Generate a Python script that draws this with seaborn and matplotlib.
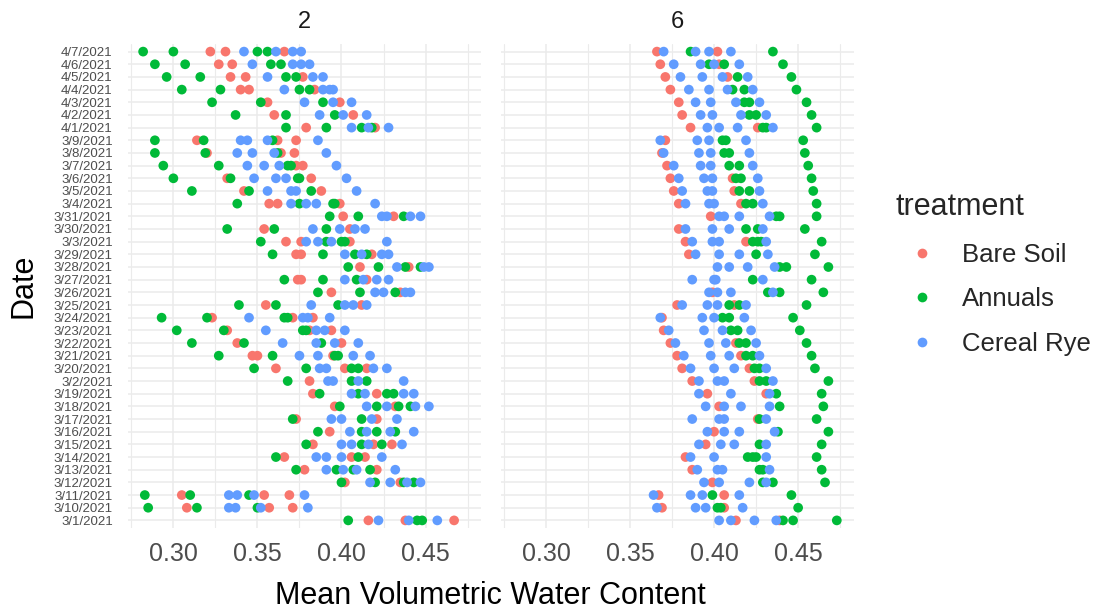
import matplotlib
matplotlib.use("Agg")
import pandas as pd
import matplotlib.pyplot as plt
import seaborn as sns
from matplotlib.lines import Line2D

# y axis order, top to bottom (dates were sorted as text in the source)
dates = ["4/7", "4/6", "4/5", "4/4", "4/3", "4/2", "4/1",
         "3/9", "3/8", "3/7", "3/6", "3/5", "3/4", "3/31", "3/30", "3/3",
         "3/29", "3/28", "3/27", "3/26", "3/25", "3/24", "3/23", "3/22",
         "3/21", "3/20", "3/2", "3/19", "3/18", "3/17", "3/16", "3/15",
         "3/14", "3/13", "3/12", "3/11", "3/10", "3/1"]
date_labels = [d + "/2021" for d in dates]

treatments = ["Bare Soil", "Annuals", "Cereal Rye"]
colors = ["#F8766D", "#00BA38", "#619CFF"]
facets = ["2", "6"]

# ---- depth 2 ----
bare_2 = {
    "4/7": [0.322, 0.331, 0.366], "4/6": [0.327, 0.335], "4/5": [0.334, 0.343, 0.377],
    "4/4": [0.340, 0.345, 0.384], "4/3": [0.356, 0.399], "4/2": [0.360, 0.407],
    "4/1": [0.379, 0.420], "3/9": [0.314, 0.362, 0.373], "3/8": [0.320, 0.364, 0.372],
    "3/7": [0.373, 0.377], "3/6": [0.332, 0.382], "3/5": [0.342, 0.388],
    "3/4": [0.357, 0.362, 0.399], "3/31": [0.401, 0.431], "3/30": [0.354, 0.405],
    "3/3": [0.367, 0.376, 0.405], "3/29": [0.373, 0.376, 0.418], "3/28": [0.411, 0.440],
    "3/27": [0.374, 0.376, 0.415], "3/26": [0.394, 0.435], "3/25": [0.355, 0.412],
    "3/24": [0.323, 0.371, 0.383], "3/23": [0.332, 0.381, 0.394], "3/22": [0.338, 0.400],
    "3/21": [0.347, 0.350, 0.395], "3/20": [0.361, 0.402, 0.415], "3/2": [0.381],
    "3/19": [0.383, 0.421], "3/18": [0.396, 0.432], "3/17": [0.373, 0.421],
    "3/16": [0.393], "3/15": [0.383, 0.419, 0.430], "3/14": [0.366, 0.406, 0.414],
    "3/13": [0.378, 0.421], "3/12": [0.402, 0.435], "3/11": [0.305, 0.354, 0.369],
    "3/10": [0.308, 0.357, 0.371], "3/1": [0.416, 0.438, 0.467],
}
annual_2 = {
    "4/7": [0.282, 0.300, 0.350, 0.356], "4/6": [0.289, 0.307, 0.358, 0.364],
    "4/5": [0.296, 0.316, 0.367, 0.373], "4/4": [0.305, 0.328, 0.375, 0.381],
    "4/3": [0.323, 0.352, 0.389], "4/2": [0.337, 0.367, 0.396],
    "4/1": [0.367, 0.391, 0.412, 0.418], "3/9": [0.289, 0.318, 0.359],
    "3/8": [0.289, 0.319, 0.362], "3/7": [0.294, 0.327, 0.368, 0.370],
    "3/6": [0.300, 0.334, 0.374, 0.375], "3/5": [0.311, 0.345, 0.382],
    "3/4": [0.338, 0.375, 0.395, 0.396], "3/31": [0.393, 0.410, 0.437],
    "3/30": [0.332, 0.360, 0.391], "3/3": [0.352, 0.391, 0.400, 0.402],
    "3/29": [0.359, 0.389, 0.408, 0.415], "3/28": [0.404, 0.422, 0.438, 0.447],
    "3/27": [0.366, 0.389, 0.409], "3/26": [0.386, 0.411, 0.432],
    "3/25": [0.339, 0.361, 0.398], "3/24": [0.293, 0.320, 0.366, 0.368],
    "3/23": [0.302, 0.330, 0.377, 0.379], "3/22": [0.311, 0.342, 0.388],
    "3/21": [0.327, 0.359, 0.396, 0.398], "3/20": [0.348, 0.379, 0.406, 0.410],
    "3/2": [0.368, 0.406, 0.415], "3/19": [0.387, 0.410, 0.427, 0.431],
    "3/18": [0.399, 0.421, 0.434, 0.441], "3/17": [0.371, 0.412],
    "3/16": [0.386, 0.412, 0.421, 0.432], "3/15": [0.379, 0.412, 0.424],
    "3/14": [0.361, 0.410], "3/13": [0.373, 0.397, 0.407, 0.417],
    "3/12": [0.400, 0.420, 0.437, 0.443], "3/11": [0.283, 0.310, 0.345],
    "3/10": [0.285, 0.314, 0.350], "3/1": [0.404, 0.445, 0.448],
}
rye_2 = {
    "4/7": [0.342, 0.361, 0.371, 0.376], "4/6": [0.347, 0.371, 0.376, 0.381],
    "4/5": [0.356, 0.383, 0.389], "4/4": [0.366, 0.389, 0.393, 0.395],
    "4/3": [0.378, 0.395, 0.406], "4/2": [0.387, 0.401, 0.415],
    "4/1": [0.406, 0.416, 0.428], "3/9": [0.340, 0.344, 0.356, 0.386],
    "3/8": [0.338, 0.347, 0.360, 0.391], "3/7": [0.344, 0.354, 0.363, 0.397],
    "3/6": [0.348, 0.361, 0.367, 0.403], "3/5": [0.356, 0.370, 0.373, 0.409],
    "3/4": [0.370, 0.379, 0.385, 0.420], "3/31": [0.424, 0.427, 0.441, 0.447],
    "3/30": [0.383, 0.399, 0.408, 0.414], "3/3": [0.379, 0.386, 0.394, 0.427],
    "3/29": [0.402, 0.412, 0.424, 0.428], "3/28": [0.433, 0.449, 0.452],
    "3/27": [0.402, 0.413, 0.421, 0.428], "3/26": [0.420, 0.425, 0.438, 0.441],
    "3/25": [0.382, 0.402, 0.407, 0.415], "3/24": [0.345, 0.377, 0.380, 0.393],
    "3/23": [0.355, 0.385, 0.390, 0.402], "3/22": [0.365, 0.385, 0.396, 0.410],
    "3/21": [0.375, 0.386, 0.407, 0.417], "3/20": [0.387, 0.391, 0.419, 0.427],
    "3/2": [0.392, 0.395, 0.410, 0.437], "3/19": [0.406, 0.414, 0.437, 0.443],
    "3/18": [0.415, 0.427, 0.444, 0.452], "3/17": [0.394, 0.400, 0.418, 0.433],
    "3/16": [0.405, 0.415, 0.429, 0.443], "3/15": [0.400, 0.406, 0.416, 0.436],
    "3/14": [0.385, 0.391, 0.400, 0.424], "3/13": [0.391, 0.401, 0.409, 0.432],
    "3/12": [0.417, 0.429, 0.439, 0.447], "3/11": [0.333, 0.338, 0.348, 0.378],
    "3/10": [0.333, 0.337, 0.352, 0.380], "3/1": [0.422, 0.440, 0.457],
}

# ---- depth 6 ----
bare_6 = {
    "4/7": [0.366, 0.402], "4/6": [0.368, 0.403], "4/5": [0.371, 0.408],
    "4/4": [0.374], "4/3": [0.379], "4/2": [0.381], "4/1": [0.386, 0.426],
    "3/9": [0.371], "3/8": [0.369], "3/7": [0.372], "3/6": [0.374, 0.411],
    "3/5": [0.376, 0.412], "3/4": [0.379, 0.416], "3/31": [0.398], "3/30": [0.379],
    "3/3": [0.383, 0.419], "3/29": [0.385], "3/28": [], "3/27": [], "3/26": [0.399],
    "3/25": [0.378, 0.412], "3/24": [0.369], "3/23": [0.370], "3/22": [0.374, 0.413],
    "3/21": [0.378, 0.416], "3/20": [0.381, 0.421], "3/2": [0.387, 0.424],
    "3/19": [0.396, 0.431], "3/18": [0.403], "3/17": [0.426], "3/16": [0.400],
    "3/15": [0.395], "3/14": [0.383], "3/13": [0.387], "3/12": [0.399],
    "3/11": [0.367, 0.406], "3/10": [0.369, 0.406], "3/1": [0.413, 0.439],
}
annual_6 = {
    "4/7": [0.386, 0.435], "4/6": [0.397, 0.406, 0.441], "4/5": [0.414, 0.446],
    "4/4": [0.411, 0.418, 0.449], "4/3": [0.418, 0.421, 0.455],
    "4/2": [0.421, 0.425, 0.458], "4/1": [0.429, 0.431, 0.461],
    "3/9": [0.405, 0.407, 0.453], "3/8": [0.406, 0.409, 0.454],
    "3/7": [0.409, 0.415, 0.456], "3/6": [0.413, 0.416, 0.458],
    "3/5": [0.415, 0.421, 0.459], "3/4": [0.419, 0.423, 0.461],
    "3/31": [0.437, 0.439, 0.461], "3/30": [0.419, 0.426, 0.454],
    "3/3": [0.423, 0.426, 0.428, 0.464], "3/29": [0.425, 0.460],
    "3/28": [0.439, 0.443, 0.468], "3/27": [0.423, 0.458],
    "3/26": [0.432, 0.439, 0.465], "3/25": [0.409, 0.415, 0.455],
    "3/24": [0.405, 0.409, 0.447], "3/23": [0.410, 0.414, 0.451],
    "3/22": [0.415, 0.419, 0.455], "3/21": [0.419, 0.423, 0.458],
    "3/20": [0.424, 0.427, 0.460], "3/2": [0.427, 0.431, 0.468],
    "3/19": [0.437, 0.464], "3/18": [0.439, 0.465], "3/17": [0.427, 0.461],
    "3/16": [0.438, 0.468], "3/15": [0.427, 0.464],
    "3/14": [0.420, 0.423, 0.425, 0.461], "3/13": [0.427, 0.429, 0.464],
    "3/12": [0.429, 0.435, 0.466], "3/11": [0.399, 0.446],
    "3/10": [0.402, 0.404, 0.450], "3/1": [0.441, 0.447, 0.473],
}
rye_6 = {
    "4/7": [0.370, 0.389, 0.397, 0.410], "4/6": [0.376, 0.392, 0.400, 0.415],
    "4/5": [0.380, 0.393, 0.405, 0.420], "4/4": [0.385, 0.397, 0.408, 0.423],
    "4/3": [0.389, 0.398, 0.413, 0.427], "4/2": [0.392, 0.399, 0.416, 0.431],
    "4/1": [0.396, 0.403, 0.414, 0.435], "3/9": [0.368, 0.390, 0.397, 0.419],
    "3/8": [0.370, 0.391, 0.398, 0.421], "3/7": [0.376, 0.392, 0.398, 0.423],
    "3/6": [0.379, 0.394, 0.399, 0.426], "3/5": [0.381, 0.396, 0.399, 0.427],
    "3/4": [0.383, 0.397, 0.400, 0.429], "3/31": [0.403, 0.406, 0.415, 0.433],
    "3/30": [0.383, 0.399, 0.409, 0.429], "3/3": [0.387, 0.399, 0.403, 0.431],
    "3/29": [0.389, 0.403, 0.415, 0.432], "3/28": [0.402, 0.409, 0.420, 0.436],
    "3/27": [0.387, 0.400, 0.401, 0.429], "3/26": [0.397, 0.402, 0.410, 0.435],
    "3/25": [0.381, 0.396, 0.402, 0.419], "3/24": [0.368, 0.393, 0.400, 0.418],
    "3/23": [0.373, 0.394, 0.405, 0.422], "3/22": [0.377, 0.397, 0.407, 0.425],
    "3/21": [0.382, 0.398, 0.409, 0.427], "3/20": [0.386, 0.400, 0.412, 0.431],
    "3/2": [0.391, 0.402, 0.406, 0.435], "3/19": [0.391, 0.410, 0.433],
    "3/18": [0.395, 0.406, 0.416, 0.433], "3/17": [0.387, 0.403, 0.406, 0.431],
    "3/16": [0.396, 0.406, 0.415, 0.436], "3/15": [0.391, 0.404, 0.412, 0.431],
    "3/14": [0.386, 0.400, 0.431], "3/13": [0.390, 0.402, 0.405, 0.433],
    "3/12": [0.394, 0.403, 0.421, 0.431], "3/11": [0.364, 0.386, 0.393, 0.415],
    "3/10": [0.366, 0.389, 0.395, 0.417], "3/1": [0.403, 0.410, 0.424, 0.437],
}

major_ticks = [0.30, 0.35, 0.40, 0.45]
minor_ticks = [0.275, 0.325, 0.375, 0.425, 0.475]


def long_frame(series):
    rows = []
    for treatment, values in zip(treatments, series):
        for d, xs in values.items():
            for x in xs:
                rows.append({"date": d + "/2021", "vwc": x, "treatment": treatment})
    return pd.DataFrame(rows)


sns.set_style("white")
plt.rcParams["font.family"] = ["Liberation Sans", "DejaVu Sans"]

fig = plt.figure(figsize=(10.96, 6.10), dpi=100)
W, H = 1096, 610
panel_top, panel_bottom = 44, 528
panel_lefts = [128, 500.6]
panel_width = 353

palette = dict(zip(treatments, colors))
grid_col = "#EBEBEB"

for i, (facet, series) in enumerate(zip(facets, [(bare_2, annual_2, rye_2),
                                                 (bare_6, annual_6, rye_6)])):
    ax = fig.add_axes([panel_lefts[i] / W, 1 - panel_bottom / H,
                       panel_width / W, (panel_bottom - panel_top) / H])
    df = long_frame(series)
    sns.stripplot(data=df, x="vwc", y="date", hue="treatment", order=date_labels,
                  hue_order=treatments, palette=palette, orient="h", jitter=False,
                  size=7, linewidth=0, legend=False, ax=ax)

    ax.set_xlim(0.273, 0.483)
    ax.set_ylim(len(dates) - 1 + 0.6, -0.6)
    ax.set_xticks(major_ticks)
    ax.set_xticklabels(["%.2f" % t for t in major_ticks])
    ax.set_xticks(minor_ticks, minor=True)
    ax.set_axisbelow(True)
    ax.grid(which="major", axis="both", color=grid_col, linewidth=1.1)
    ax.grid(which="minor", axis="x", color=grid_col, linewidth=0.8)
    for s in ax.spines.values():
        s.set_visible(False)
    ax.tick_params(which="both", length=0)
    ax.tick_params(axis="x", labelsize=18, labelcolor="#4D4D4D", pad=10)
    ax.tick_params(axis="y", labelsize=9.5, labelcolor="#4D4D4D", pad=11)
    ax.set_xlabel("")
    ax.set_ylabel("")
    if i == 1:
        ax.tick_params(axis="y", labelleft=False)

    # facet strip label
    ax.text(0.5, 1 + 22 / (panel_bottom - panel_top), facet, transform=ax.transAxes,
            ha="center", va="center", fontsize=17, color="#1A1A1A")

fig.text(490 / W, 1 - 604 / H, "Mean Volumetric Water Content", ha="center",
         va="baseline", fontsize=22, color="black")
fig.text(24 / W, 1 - 286 / H, "Date", rotation=90, ha="center", va="center",
         fontsize=22, color="black")

handles = [Line2D([], [], marker="o", linestyle="", color=c, markersize=7,
                  markeredgewidth=0) for c in colors]
fig.legend(handles, treatments, title="treatment", loc="upper left",
           bbox_to_anchor=(896 / W, 1 - 192 / H), frameon=False, fontsize=18.5,
           title_fontsize=22, labelspacing=0.8, handletextpad=0.57,
           borderpad=0, borderaxespad=0, alignment="left")

fig.savefig("out.png", dpi=100)
